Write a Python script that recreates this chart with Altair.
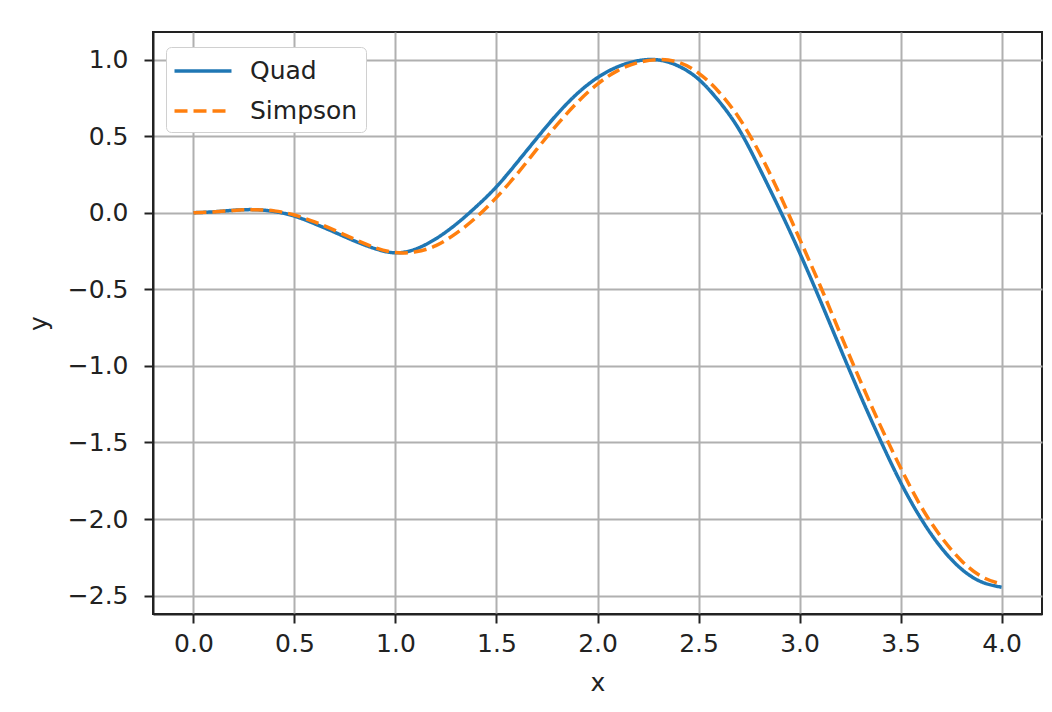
import altair as alt
import pandas as pd

# ---- data ----
x_vals = [0.0, 0.1, 0.2, 0.3, 0.4, 0.5, 0.6, 0.7, 0.8, 0.9,
          1.0, 1.1, 1.2, 1.3, 1.4, 1.5, 1.6, 1.7, 1.8, 1.9,
          2.0, 2.1, 2.2, 2.3, 2.4, 2.5, 2.6, 2.7, 2.8, 2.9,
          3.0, 3.1, 3.2, 3.3, 3.4, 3.5, 3.6, 3.7, 3.8, 3.9, 4.0]

quad_y = [0.000, 0.006, 0.016, 0.020, 0.008, -0.022, -0.072, -0.128, -0.186, -0.235,
          -0.262, -0.237, -0.170, -0.075, 0.040, 0.170, 0.325, 0.487, 0.643, 0.778,
          0.882, 0.953, 0.992, 0.998, 0.958, 0.872, 0.730, 0.545, 0.295, 0.025,
          -0.260, -0.565, -0.880, -1.190, -1.485, -1.760, -1.995, -2.185, -2.325, -2.410, -2.445]

simpson_y = [0.000, 0.005, 0.015, 0.020, 0.012, -0.015, -0.060, -0.115, -0.175, -0.228,
             -0.260, -0.255, -0.215, -0.135, -0.030, 0.100, 0.250, 0.415, 0.575, 0.720,
             0.840, 0.928, 0.980, 1.000, 0.982, 0.912, 0.790, 0.620, 0.395, 0.125,
             -0.170, -0.470, -0.785, -1.095, -1.390, -1.665, -1.915, -2.115, -2.270, -2.375, -2.425]

series = ["Quad", "Simpson"]
colors = ["#1f77b4", "#ff7f0e"]
dashes = [[1, 0], [13, 6]]

x_ticks = [0.0, 0.5, 1.0, 1.5, 2.0, 2.5, 3.0, 3.5, 4.0]
y_ticks = [-2.5, -2.0, -1.5, -1.0, -0.5, 0.0, 0.5, 1.0]

rows = []
for name, ys in zip(series, [quad_y, simpson_y]):
    for xv, yv in zip(x_vals, ys):
        rows.append({"x": xv, "y": yv, "method": name})
df = pd.DataFrame(rows)

FONT = "DejaVu Sans"
FS = 25
TXT = "#222222"

legend_kw = dict(
    title=None,
    orient="none",
    legendX=13,
    legendY=15,
    padding=8,
    rowPadding=11,
    symbolType="M-2,0H2",
    symbolSize=812,
    symbolStrokeWidth=3.5,
    symbolOffset=13,
    labelFont=FONT,
    labelFontSize=FS,
    labelColor=TXT,
    labelOffset=31,
    cornerRadius=5,
    strokeColor="#d0d0d0",
    fillColor="white",
)

chart = alt.Chart(df).mark_line(strokeWidth=3.5, interpolate="natural").encode(
    x=alt.X("x:Q",
            scale=alt.Scale(domain=[-0.2, 4.2], nice=False, zero=False),
            axis=alt.Axis(values=x_ticks, format=".1f", title="x",
                          labelPadding=8, titlePadding=14)),
    y=alt.Y("y:Q",
            scale=alt.Scale(domain=[-2.62, 1.18], nice=False, zero=False),
            axis=alt.Axis(values=y_ticks, format=".1f", title="y",
                          labelPadding=16, titlePadding=16)),
    color=alt.Color("method:N", scale=alt.Scale(domain=series, range=colors),
                    legend=alt.Legend(**legend_kw)),
    strokeDash=alt.StrokeDash("method:N", scale=alt.Scale(domain=series, range=dashes),
                              legend=alt.Legend(**legend_kw)),
).properties(
    width=889,
    height=582,
    autosize=alt.AutoSizeParams(type="none"),
    padding={"left": 145, "top": 24, "right": 2, "bottom": 90},
    background="white",
).configure_view(
    stroke="#222222",
    strokeWidth=2,
).configure_axis(
    labelFont=FONT,
    labelFontSize=FS,
    labelColor=TXT,
    titleFont=FONT,
    titleFontSize=FS,
    titleFontWeight="normal",
    titleColor=TXT,
    tickSize=9,
    tickWidth=2,
    tickColor=TXT,
    domainColor=TXT,
    domainWidth=2,
    grid=True,
    gridColor="#b0b0b0",
    gridWidth=2,
)

chart.save("out.html", embed_options={"renderer": "svg", "actions": False})
